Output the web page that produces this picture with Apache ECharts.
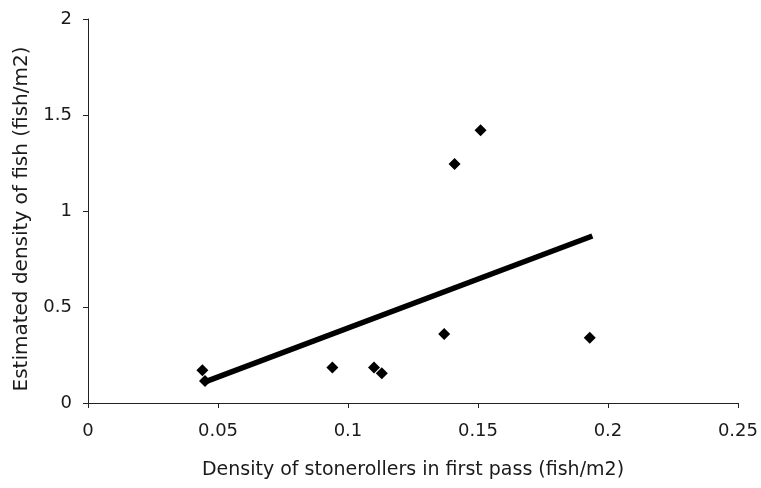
<!DOCTYPE html>
<html>
<head>
<meta charset="utf-8">
<script src="https://cdn.jsdelivr.net/npm/echarts@6/dist/echarts.min.js"></script>
<style>
  html, body { margin: 0; padding: 0; background: #fff; }
  #chart { width: 761px; height: 488px; }
</style>
</head>
<body>
<div id="chart"></div>
<script>
// first-pass density vs estimated density
const firstPass = [0.044, 0.045, 0.094, 0.110, 0.113, 0.137, 0.141, 0.151, 0.193];
const estimated = [0.17, 0.115, 0.185, 0.185, 0.155, 0.36, 1.245, 1.42, 0.34];

// fitted line ends
const trendX = [0.045, 0.194];
const trendY = [0.11, 0.87];

const xTicks = [0, 0.05, 0.1, 0.15, 0.2, 0.25];
const yTicks = [0, 0.5, 1, 1.5, 2];

const font = 'DejaVu Sans, sans-serif';

const chart = echarts.init(document.getElementById('chart'));

chart.setOption({
  animation: false,
  backgroundColor: '#fff',
  grid: { left: 88, right: 23, top: 19, bottom: 85 },
  xAxis: {
    type: 'value',
    min: xTicks[0],
    max: xTicks[xTicks.length - 1],
    interval: 0.05,
    name: 'Density of stonerollers in first pass (fish/m2)',
    nameLocation: 'middle',
    nameGap: 58,
    nameTextStyle: { fontFamily: font, fontSize: 19, color: '#1a1a1a' },
    axisLine: { lineStyle: { color: '#222', width: 1 } },
    axisTick: { show: true, inside: false, length: 5, lineStyle: { color: '#222' } },
    axisLabel: { fontFamily: font, fontSize: 18, color: '#1a1a1a', margin: 19,
      formatter: v => String(+v.toFixed(2)) },
    splitLine: { show: false }
  },
  yAxis: {
    type: 'value',
    min: yTicks[0],
    max: yTicks[yTicks.length - 1],
    interval: 0.5,
    name: 'Estimated density of fish (fish/m2)',
    nameLocation: 'middle',
    nameGap: 56,
    nameTextStyle: { fontFamily: font, fontSize: 20, color: '#1a1a1a', padding: [0, 16, 0, 0] },
    axisLine: { show: true, lineStyle: { color: '#222', width: 1 } },
    axisTick: { show: true, inside: false, length: 5, lineStyle: { color: '#222' } },
    axisLabel: { fontFamily: font, fontSize: 18, color: '#1a1a1a', margin: 16 },
    splitLine: { show: false }
  },
  series: [
    {
      type: 'line',
      data: trendX.map((x, i) => [x, trendY[i]]),
      showSymbol: false,
      lineStyle: { color: '#000', width: 5.5 },
      z: 2
    },
    {
      type: 'scatter',
      data: firstPass.map((x, i) => [x, estimated[i]]),
      symbol: 'path://M0,-1L1,0L0,1L-1,0Z',
      symbolSize: 12,
      itemStyle: { color: '#000', opacity: 1 },
      z: 3
    }
  ]
});
</script>
</body>
</html>
